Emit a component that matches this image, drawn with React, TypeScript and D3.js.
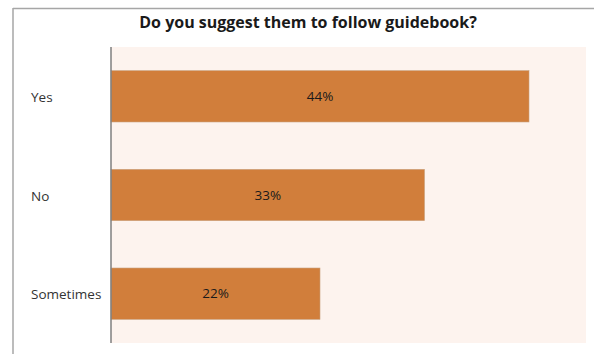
import React from "react";
import * as d3 from "d3";

const categories = ["Yes", "No", "Sometimes"];
const values = [44, 33, 22];
const title = "Do you suggest them to follow guidebook?";

const W = 594;
const H = 354;
const plot = { left: 111, right: 586, top: 47, bottom: 343 };

export default function App() {
  const x = d3.scaleLinear().domain([0, 50]).range([plot.left, plot.right]);
  const y = d3
    .scaleBand<string>()
    .domain(categories)
    .range([plot.top, plot.bottom])
    .paddingInner(0.48)
    .paddingOuter(0.24);

  return (
    <svg
      width={W}
      height={H}
      style={{ position: "absolute", left: 0, top: 0, background: "#fff" }}
      fontFamily="'Open Sans', sans-serif"
    >
      <rect x={0} y={0} width={W} height={H} fill="#fff" />
      {/* outer frame */}
      <line x1={13} x2={W} y1={8.5} y2={8.5} stroke="#a6a6a6" strokeWidth={1.5} />
      <line x1={13} x2={13} y1={8} y2={H} stroke="#a6a6a6" strokeWidth={1.5} />
      <text x={308} y={28} textAnchor="middle" fontSize={16} fontWeight={700} fill="#1a1a1a">
        {title}
      </text>
      <rect
        x={plot.left}
        y={plot.top}
        width={plot.right - plot.left}
        height={plot.bottom - plot.top}
        fill="#fdf3ee"
      />
      {categories.map((c, i) => (
        <g key={c}>
          <rect
            x={x(0)}
            y={y(c)}
            width={x(values[i]) - x(0)}
            height={y.bandwidth()}
            fill="#d17e3b"
            stroke="#c9a07d"
            strokeWidth={0.6}
          />
          <text
            x={(x(0) + x(values[i])) / 2}
            y={(y(c) as number) + y.bandwidth() / 2}
            dy="0.35em"
            textAnchor="middle"
            fontSize={13.5}
            fill="#1a1a1a"
          >
            {values[i]}%
          </text>
          <text
            x={31}
            y={(y(c) as number) + y.bandwidth() / 2 + 1}
            dy="0.35em"
            fontSize={13.5}
            fill="#333"
          >
            {c}
          </text>
        </g>
      ))}
      <line x1={plot.left} x2={plot.left} y1={plot.top} y2={plot.bottom} stroke="#7f7f7f" strokeWidth={1.5} />
    </svg>
  );
}
